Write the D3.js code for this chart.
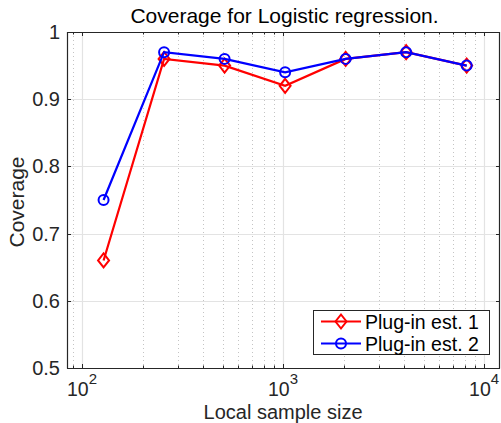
<!DOCTYPE html>
<html><head><meta charset="utf-8">
<script src="https://cdn.jsdelivr.net/npm/d3@7"></script>
<style>body{margin:0;background:#fff}svg{display:block}text{font-family:"Liberation Sans",Arial,Helvetica,sans-serif;fill:#262626}</style>
</head><body>
<script>
const sampleSizes = [128, 256, 512, 1024, 2048, 4096, 8192];
const est1 = [0.66, 0.96, 0.95, 0.92, 0.96, 0.97, 0.95];
const est2 = [0.75, 0.97, 0.96, 0.94, 0.96, 0.97, 0.95];
const seriesNames = ["Plug-in est. 1", "Plug-in est. 2"];
const yTicks = [0.5, 0.6, 0.7, 0.8, 0.9, 1];
const xMajor = [100, 1000, 10000];
const xExp = ["2", "3", "4"];

const W = 501, H = 423;
const L = 67, R = 500, T = 32, B = 368;
const svg = d3.select("body").append("svg").attr("width", W).attr("height", H);
const x = d3.scaleLog().domain([84.2, 12000]).range([L, R]);
const y = d3.scaleLinear().domain([0.5, 1]).range([B, T]);

const xMinor = [];
[10, 100, 1000].forEach(d => { for (let k = 2; k <= 9; k++) { const v = d * k; if (v > 84.2 && v < 12000 && !xMajor.includes(v)) xMinor.push(v); } });

const g = svg.append("g");
// minor grid
g.selectAll(".mgx").data(xMinor).enter().append("line")
  .attr("x1", d => Math.round(x(d)) + 0.5).attr("x2", d => Math.round(x(d)) + 0.5)
  .attr("y1", T).attr("y2", B).attr("stroke", "#c4c4c4").attr("stroke-width", 1).attr("stroke-dasharray", "1,3");
// major grid
g.selectAll(".Mgx").data(xMajor).enter().append("line")
  .attr("x1", d => Math.round(x(d)) + 0.5).attr("x2", d => Math.round(x(d)) + 0.5)
  .attr("y1", T).attr("y2", B).attr("stroke", "#e3e3e3").attr("stroke-width", 1.2);
g.selectAll(".Mgy").data(yTicks).enter().append("line")
  .attr("x1", L).attr("x2", R)
  .attr("y1", d => Math.round(y(d)) + 0.5).attr("y2", d => Math.round(y(d)) + 0.5)
  .attr("stroke", "#e3e3e3").attr("stroke-width", 1.2);

// axes box
const axC = "#262626";
g.append("line").attr("x1", L + 0.5).attr("x2", L + 0.5).attr("y1", T).attr("y2", B + 0.5).attr("stroke", axC).attr("stroke-width", 1.2);
g.append("line").attr("x1", L).attr("x2", R).attr("y1", B + 0.5).attr("y2", B + 0.5).attr("stroke", axC).attr("stroke-width", 1.2);
g.append("line").attr("x1", L).attr("x2", R).attr("y1", T + 0.5).attr("y2", T + 0.5).attr("stroke", axC).attr("stroke-width", 1.2);
g.append("line").attr("x1", R - 0.5).attr("x2", R - 0.5).attr("y1", T).attr("y2", B + 0.5).attr("stroke", axC).attr("stroke-width", 1.2);

// ticks
const tk = 4, tkm = 2.5;
xMajor.forEach(v => {
  const px = Math.round(x(v)) + 0.5;
  g.append("line").attr("x1", px).attr("x2", px).attr("y1", B).attr("y2", B - tk).attr("stroke", axC);
  g.append("line").attr("x1", px).attr("x2", px).attr("y1", T).attr("y2", T + tk).attr("stroke", axC);
});
xMinor.forEach(v => {
  const px = Math.round(x(v)) + 0.5;
  g.append("line").attr("x1", px).attr("x2", px).attr("y1", B).attr("y2", B - tkm).attr("stroke", axC);
  g.append("line").attr("x1", px).attr("x2", px).attr("y1", T).attr("y2", T + tkm).attr("stroke", axC);
});
yTicks.forEach(v => {
  const py = Math.round(y(v)) + 0.5;
  g.append("line").attr("x1", L).attr("x2", L + tk).attr("y1", py).attr("y2", py).attr("stroke", axC);
  g.append("line").attr("x1", R).attr("x2", R - tk).attr("y1", py).attr("y2", py).attr("stroke", axC);
});

// tick labels
svg.selectAll(".yl").data(yTicks).enter().append("text")
  .attr("x", L - 7).attr("y", d => y(d) + 7).attr("text-anchor", "end").attr("font-size", 20)
  .text(d => d === 1 ? "1" : d.toFixed(1));
xMajor.forEach((v, i) => {
  const t = svg.append("text").attr("x", x(v)).attr("y", 396).attr("text-anchor", "middle").attr("font-size", 19.5);
  t.append("tspan").text("10");
  t.append("tspan").attr("dy", -12).attr("font-size", 15).text(xExp[i]);
});

// labels
svg.append("text").attr("x", (L + R) / 2 + 1).attr("y", 23).attr("text-anchor", "middle").attr("font-size", 21).style("fill", "#000")
  .text("Coverage for Logistic regression.");
svg.append("text").attr("x", x(1000)).attr("y", 419).attr("text-anchor", "middle").attr("font-size", 20)
  .text("Local sample size");
svg.append("text").attr("transform", `translate(24,${(T + B) / 2 + 2}) rotate(-90)`).attr("text-anchor", "middle").attr("font-size", 21)
  .text("Coverage");

// series
const series = [
  { vals: est1, color: "#ff0000", marker: "diamond" },
  { vals: est2, color: "#0000ff", marker: "circle" }
];
const line = d3.line().x(d => x(d[0])).y(d => y(d[1]));
function drawMarker(sel, type, cx, cy, color) {
  if (type === "circle") {
    sel.append("circle").attr("cx", cx).attr("cy", cy).attr("r", 5).attr("fill", "none").attr("stroke", color).attr("stroke-width", 2);
  } else {
    sel.append("path").attr("d", `M${cx},${cy - 7}L${cx + 5.5},${cy}L${cx},${cy + 7}L${cx - 5.5},${cy}Z`)
      .attr("fill", "none").attr("stroke", color).attr("stroke-width", 2);
  }
}
const pg = svg.append("g");
series.forEach(s => {
  const pts = sampleSizes.map((n, i) => [n, s.vals[i]]);
  pg.append("path").attr("d", line(pts)).attr("fill", "none").attr("stroke", s.color).attr("stroke-width", 2.2);
  pts.forEach(p => drawMarker(pg, s.marker, x(p[0]), y(p[1]), s.color));
});

// legend
const lg = svg.append("g");
lg.append("rect").attr("x", 313.5).attr("y", 310.5).attr("width", 176).attr("height", 44)
  .attr("fill", "#fff").attr("stroke", "#262626").attr("stroke-width", 1);
series.forEach((s, i) => {
  const cy = 321.5 + i * 22;
  lg.append("line").attr("x1", 321).attr("x2", 361).attr("y1", cy).attr("y2", cy).attr("stroke", s.color).attr("stroke-width", 2.2);
  drawMarker(lg, s.marker, 341, cy, s.color);
  lg.append("text").attr("x", 365).attr("y", cy + 7).attr("font-size", 19.5).style("fill", "#000").text(seriesNames[i]);
});
</script>
</body></html>
